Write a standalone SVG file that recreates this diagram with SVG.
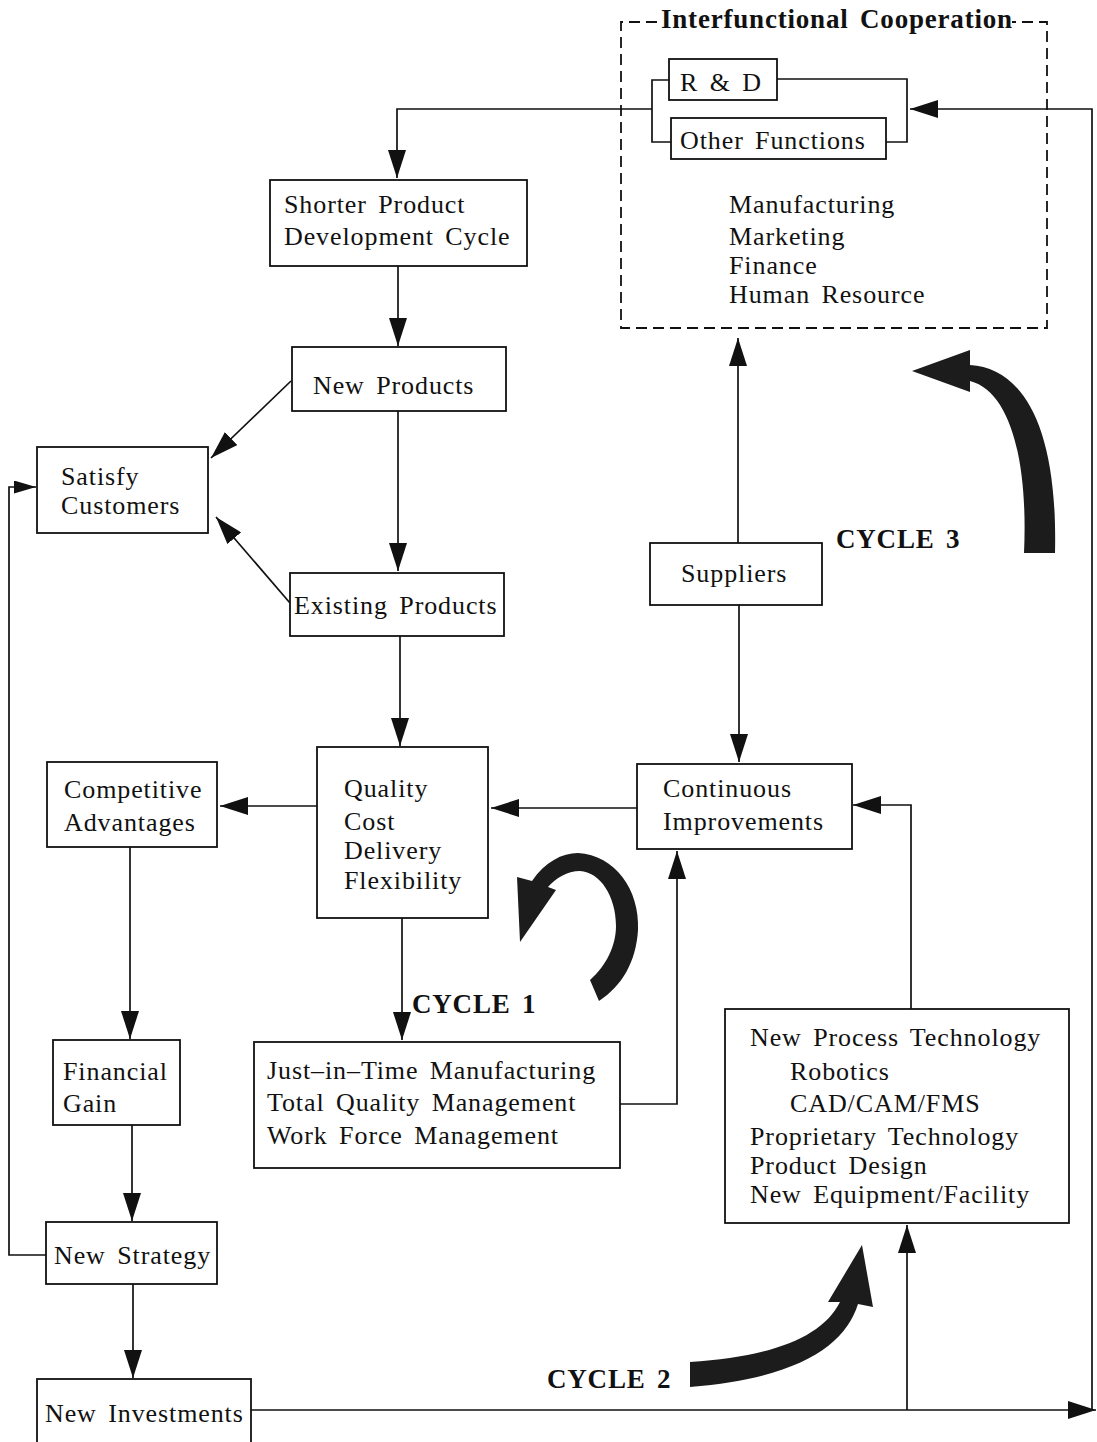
<svg xmlns="http://www.w3.org/2000/svg" width="1097" height="1442" viewBox="0 0 1097 1442">
<defs>
<style>
.bg{fill:#fff}
.box{fill:#fff;stroke:#111;stroke-width:1.8}
.t{font-family:"Liberation Serif","Times New Roman",serif;font-size:26px;letter-spacing:0.9px;word-spacing:4px;fill:#111}
.b{font-family:"Liberation Serif","Times New Roman",serif;font-size:27px;font-weight:bold;letter-spacing:0.8px;word-spacing:4px;fill:#111}
.ln{fill:none;stroke:#111;stroke-width:1.7}
.ar{fill:none;stroke:#111;stroke-width:1.7;marker-end:url(#ah)}
.sa{fill:none;stroke:#111;stroke-width:1.7;marker-end:url(#sh)}
.dash{fill:none;stroke:#111;stroke-width:1.8;stroke-dasharray:11 6}
.cyc{fill:#1c1c1c}
</style>
<marker id="ah" viewBox="0 0 28 18" refX="28" refY="9" markerWidth="28" markerHeight="18" markerUnits="userSpaceOnUse" orient="auto"><path d="M0,0 L28,9 L0,18 Z" fill="#111"/></marker>
<marker id="sh" viewBox="0 0 22 13" refX="22" refY="6.5" markerWidth="22" markerHeight="13" markerUnits="userSpaceOnUse" orient="auto"><path d="M0,0 L22,6.5 L0,13 Z" fill="#111"/></marker>
</defs>
<rect class="bg" x="0" y="0" width="1097" height="1442"/>

<g id="connectors">
<path class="ar" d="M652,109 L397,109 L397,178"/>
<path class="ar" d="M398,266 L398,346"/>
<path class="ar" d="M398,411 L398,571"/>
<path class="ar" d="M291,381 L211,458"/>
<path class="ar" d="M290,603 L216,517"/>
<path class="ar" d="M400,636 L400,746"/>
<path class="ar" d="M317,806 L220,806"/>
<path class="ar" d="M637,808 L491,808"/>
<path class="ar" d="M402,918 L402,1040"/>
<path class="ar" d="M620,1104 L677,1104 L677,851"/>
<path class="ar" d="M738,543 L738,338"/>
<path class="ar" d="M739,605 L739,762"/>
<path class="ar" d="M911,1009 L911,805 L853,805"/>
<path class="ar" d="M130,847 L130,1039"/>
<path class="ar" d="M132,1125 L132,1221"/>
<path class="ar" d="M133,1284 L133,1378"/>
<path class="sa" d="M46,1255 L9,1255 L9,487 L36,487"/>
<path class="ar" d="M251,1410 L1096,1410"/>
<path class="ar" d="M907,1410 L907,1225"/>
<path class="ar" d="M1092,1410 L1092,109 L910,109"/>
</g>

<g id="interfunctional">
<path class="dash" d="M657,22 L621,22 L621,328 L1047,328 L1047,22 L1012,22"/>
<text class="b" x="661" y="28">Interfunctional Cooperation</text>
<path class="ln" d="M669,80 L652,80 L652,142 L671,142"/>
<path class="ln" d="M777,79 L907,79 L907,142 L886,142"/>
<text class="t" x="729" y="213">Manufacturing</text>
<text class="t" x="729" y="245">Marketing</text>
<text class="t" x="729" y="274">Finance</text>
<text class="t" x="729" y="303">Human Resource</text>
</g>
<g id="rnd">
<rect class="box" x="669" y="59" width="108" height="41"/>
<text class="t" x="680" y="91">R &amp; D</text>
</g>
<g id="other-functions">
<rect class="box" x="671" y="118" width="215" height="41"/>
<text class="t" x="680" y="149">Other Functions</text>
</g>

<g id="shorter-product">
<rect class="box" x="270" y="180" width="257" height="86"/>
<text class="t" x="284" y="213">Shorter Product</text>
<text class="t" x="284" y="245">Development Cycle</text>
</g>
<g id="new-products">
<rect class="box" x="292" y="347" width="214" height="64"/>
<text class="t" x="313" y="394">New Products</text>
</g>
<g id="satisfy-customers">
<rect class="box" x="37" y="447" width="171" height="86"/>
<text class="t" x="61" y="485">Satisfy</text>
<text class="t" x="61" y="514">Customers</text>
</g>
<g id="existing-products">
<rect class="box" x="290" y="573" width="214" height="63"/>
<text class="t" x="294" y="614">Existing Products</text>
</g>
<g id="qcdf">
<rect class="box" x="317" y="747" width="171" height="171"/>
<text class="t" x="344" y="797">Quality</text>
<text class="t" x="344" y="830">Cost</text>
<text class="t" x="344" y="859">Delivery</text>
<text class="t" x="344" y="889">Flexibility</text>
</g>
<g id="competitive-advantages">
<rect class="box" x="47" y="762" width="170" height="85"/>
<text class="t" x="64" y="798">Competitive</text>
<text class="t" x="64" y="831">Advantages</text>
</g>
<g id="continuous-improvements">
<rect class="box" x="637" y="764" width="215" height="85"/>
<text class="t" x="663" y="797">Continuous</text>
<text class="t" x="663" y="830">Improvements</text>
</g>
<g id="suppliers">
<rect class="box" x="650" y="543" width="172" height="62"/>
<text class="t" x="681" y="582">Suppliers</text>
</g>
<g id="financial-gain">
<rect class="box" x="53" y="1040" width="127" height="85"/>
<text class="t" x="63" y="1080">Financial</text>
<text class="t" x="63" y="1112">Gain</text>
</g>
<g id="jit">
<rect class="box" x="254" y="1042" width="366" height="126"/>
<text class="t" x="267" y="1079">Just–in–Time Manufacturing</text>
<text class="t" x="267" y="1111">Total Quality Management</text>
<text class="t" x="267" y="1144">Work Force Management</text>
</g>
<g id="new-process-technology">
<rect class="box" x="725" y="1009" width="344" height="214"/>
<text class="t" x="750" y="1046">New Process Technology</text>
<text class="t" x="790" y="1080">Robotics</text>
<text class="t" x="790" y="1112">CAD/CAM/FMS</text>
<text class="t" x="750" y="1145">Proprietary Technology</text>
<text class="t" x="750" y="1174">Product Design</text>
<text class="t" x="750" y="1203">New Equipment/Facility</text>
</g>
<g id="new-strategy">
<rect class="box" x="46" y="1222" width="171" height="62"/>
<text class="t" x="54" y="1264">New Strategy</text>
</g>
<g id="new-investments">
<rect class="box" x="37" y="1379" width="214" height="70"/>
<text class="t" x="45" y="1422">New Investments</text>
</g>

<g id="cycle1">
<path class="cyc" d="M520,942 L517,877 L532,881 C545,862 562,853 578,853 C615,855 640,890 638,930 C636,962 622,986 599,1001 L590,980 C606,966 616,946 616,926 C616,896 600,872 580,871 C567,871 556,878 548,887 L556,890 Z"/>
<text class="b" x="412" y="1013">CYCLE 1</text>
</g>
<g id="cycle2">
<path class="cyc" d="M862,1245 L873,1307 L858,1304 C845,1345 800,1378 690,1387 L690,1362 C770,1357 822,1338 840,1302 L828,1302 Z"/>
<text class="b" x="547" y="1388">CYCLE 2</text>
</g>
<g id="cycle3">
<path class="cyc" d="M912,371 L970,350 L970,365 C1022,368 1058,425 1055,553 L1024,553 C1028,465 1012,392 970,381 L970,392 Z"/>
<text class="b" x="836" y="548">CYCLE 3</text>
</g>
</svg>
